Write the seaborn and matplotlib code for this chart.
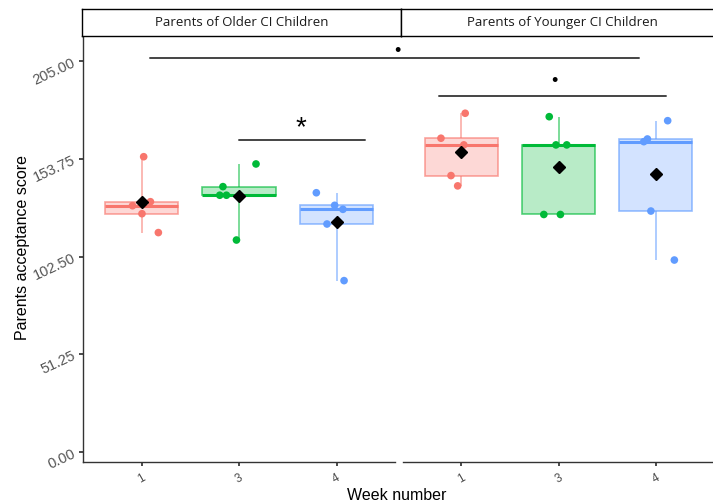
import numpy as np
import pandas as pd
import matplotlib
matplotlib.use('Agg')
import matplotlib.pyplot as plt
import matplotlib.colors as mcolors
import seaborn as sns
from matplotlib.lines import Line2D

# ---------------- data ----------------
weeks = ['1', '3', '4']
groups = ['Parents of Older CI Children', 'Parents of Younger CI Children']
older_week1 = [154.9, 131.3, 129.2, 125.0, 115.1]
older_week3 = [151.1, 139.2, 134.7, 134.7, 111.2]
older_week4 = [136.0, 129.4, 127.3, 119.6, 89.9]
younger_week1 = [177.7, 164.6, 161.1, 145.0, 139.6]
younger_week3 = [175.9, 161.1, 161.1, 124.6, 124.6]
younger_week4 = [173.8, 164.2, 162.8, 126.4, 100.7]
y_ticks = [0.0, 51.25, 102.5, 153.75, 205.0]
palette = {'1': '#F8766D', '3': '#00BA38', '4': '#619CFF'}

rows = []
for g, series in zip(groups, [[older_week1, older_week3, older_week4],
                              [younger_week1, younger_week3, younger_week4]]):
    for w, vals in zip(weeks, series):
        for v in vals:
            rows.append({'group': g, 'week': w, 'score': v})
df = pd.DataFrame(rows)

sns.set_theme(style='white')
plt.rcParams['font.family'] = ['Liberation Sans', 'DejaVu Sans']

W, H = 713, 504
fig = plt.figure(figsize=(W / 100, H / 100), dpi=100)


def fx(px):
    return px / W


def fy(py):
    return 1 - py / H


ax_l = fig.add_axes([fx(83), fy(462), fx(395) - fx(83), fy(37) - fy(462)])
ax_r = fig.add_axes([fx(403), fy(462), fx(714) - fx(403), fy(37) - fy(462)])

np.random.seed(3)
for ax, g in [(ax_l, groups[0]), (ax_r, groups[1])]:
    sub = df[df['group'] == g]
    sns.boxplot(data=sub, x='week', y='score', hue='week', order=weeks, hue_order=weeks,
                palette=palette, fill=True, width=0.75, whis=(0, 100), showcaps=False,
                showfliers=False, showmeans=True, linewidth=1.2,
                meanprops=dict(marker='D', markerfacecolor='black', markeredgecolor='black',
                               markersize=6),
                medianprops=dict(linewidth=2.2),
                legend=False, ax=ax)
    for cont, w in zip(ax.containers, weeks):
        rgb = mcolors.to_rgb(palette[w])
        for b in cont.boxes:
            b.set_facecolor((*rgb, 0.28))
            b.set_edgecolor((*rgb, 0.65))
        for m in cont.medians:
            m.set_color(rgb)
        for wh in cont.whiskers:
            wh.set_color((*rgb, 0.6))
        for mn in cont.means:
            mn.set_zorder(6)
    sns.stripplot(data=sub, x='week', y='score', hue='week', order=weeks, hue_order=weeks,
                  palette=palette, jitter=0.22, size=5.5, legend=False, ax=ax, zorder=3)
    ax.set_xlim(-0.6, 2.6)
    ax.set_ylim(-5.25, 217.7)
    ax.set_xlabel('')
    ax.set_ylabel('')
    for s in ['top', 'right']:
        ax.spines[s].set_visible(False)
    ax.spines['bottom'].set_color('#333333')
    ax.spines['bottom'].set_linewidth(1.0)
    ax.tick_params(axis='x', bottom=True, length=3, color='#333333', labelsize=8.5,
                   labelcolor='#4d4d4d', labelrotation=30, pad=4)

ax_l.spines['left'].set_color('#333333')
ax_l.spines['left'].set_linewidth(1.0)
ax_l.set_yticks(y_ticks)
ax_l.set_yticklabels([f'{t:.2f}' for t in y_ticks], rotation=25, color='#555555', fontsize=10.5)
ax_l.tick_params(axis='y', left=True, length=3, color='#333333', pad=1)
ax_r.spines['left'].set_visible(False)
ax_r.set_yticks([])

# facet strips
for x0, x1, label, tx in [(82, 401, groups[0], 241.5), (401, 720, groups[1], 562)]:
    sa = fig.add_axes([fx(x0), fy(36), fx(x1) - fx(x0), fy(9) - fy(36)])
    sa.set_xticks([])
    sa.set_yticks([])
    for s in sa.spines.values():
        s.set_color('black')
        s.set_linewidth(1.0)
    sa.text((tx - x0) / (x1 - x0), 0.5, label,
            ha='center', va='center', fontsize=9.5, color='#1a1a1a',
            transform=sa.transAxes, family=['Open Sans', 'DejaVu Sans'])

# significance annotations
ann_color = '#444444'
for (xa, xb, yy) in [(150, 639, 58), (439, 666, 96), (239, 365, 140)]:
    fig.add_artist(Line2D([fx(xa), fx(xb)], [fy(yy), fy(yy)], transform=fig.transFigure,
                          color=ann_color, linewidth=1.4, zorder=20))
fig.text(fx(397), fy(51), '•', ha='center', va='center', fontsize=13, color='black', zorder=20)
fig.text(fx(554), fy(82), '•', ha='center', va='center', fontsize=13, color='black', zorder=20)
fig.text(fx(301), fy(128), '*', ha='center', va='center', fontsize=20, color='black', zorder=20)

fig.text(fx(23), fy(247), 'Parents acceptance score', rotation=90, ha='center', va='center',
         fontsize=11.5, color='black')
fig.text(fx(397), fy(495), 'Week number', ha='center', va='center', fontsize=11.5,
         color='black')

fig.savefig('out.png', dpi=100)
